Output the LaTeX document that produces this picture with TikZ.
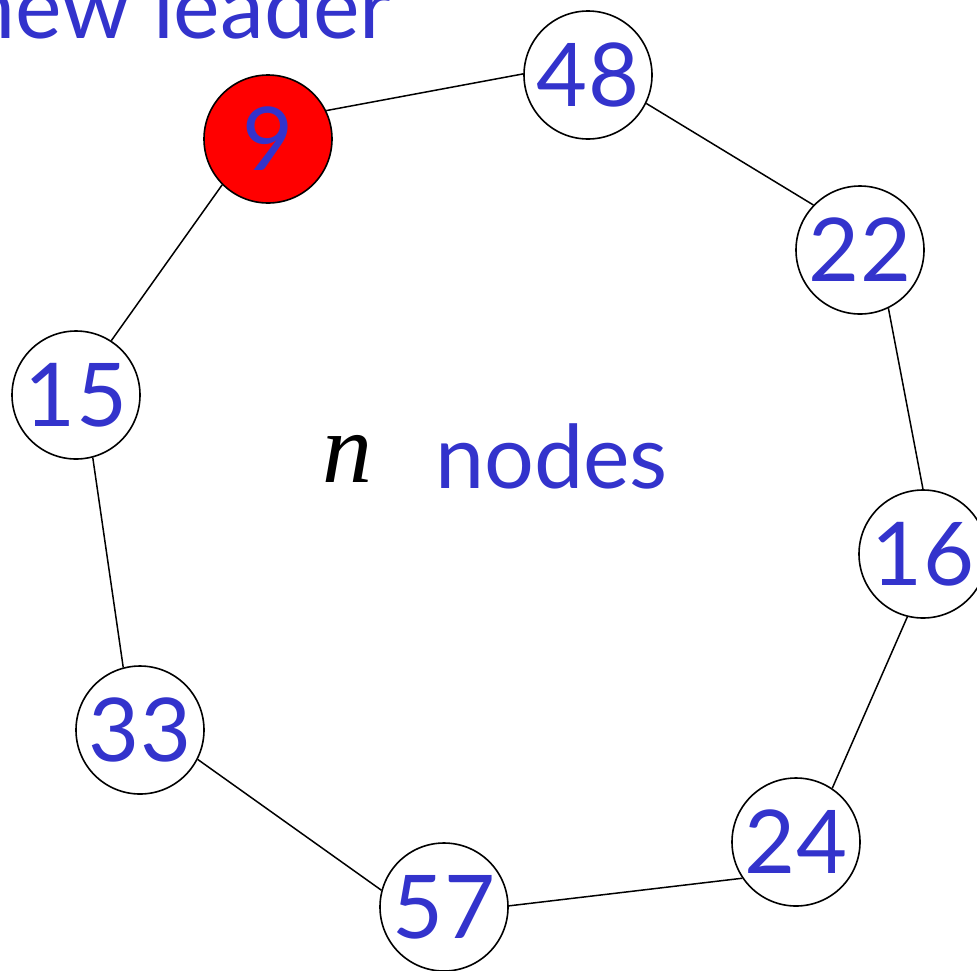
\documentclass[tikz,border=0pt]{standalone}
\usepackage{fontspec}
\setmainfont{Lato}
\newfontfamily\timesfont{Liberation Serif}
\definecolor{txtblue}{HTML}{3333CC}
\definecolor{leadred}{HTML}{FF0000}
\tikzset{
  ringnode/.style={circle, draw=black, line width=1.6pt, fill=white, minimum size=128pt, inner sep=0pt,
    text=txtblue, font=\fontsize{88}{88}\selectfont},
  leadnode/.style={ringnode, fill=leadred},
  ringedge/.style={draw=black, line width=1.5pt},
  bluetext/.style={text=txtblue, font=\fontsize{88}{88}\selectfont, inner sep=0pt}
}
\begin{document}
\begin{tikzpicture}[x=1pt,y=-1pt]
\useasboundingbox (0,0) rectangle (977,970);
\begin{scope}
\clip (0,0) rectangle (977,970);
\node[leadnode] (n9) at (268,139) {9};
\node[ringnode] (n48) at (588,75) {48};
\node[ringnode] (n22) at (860,250) {22};
\node[ringnode] (n16) at (923,554) {16};
\node[ringnode] (n24) at (796,842) {24};
\node[ringnode] (n57) at (444,907) {57};
\node[ringnode] (n33) at (140,730) {33};
\node[ringnode] (n15) at (76,395) {15};

\draw[ringedge] (n9.26) -- (n48.179);
\draw[ringedge] (n48.-26) -- (n22.136);
\draw[ringedge] (n22.-64) -- (n16.90);
\draw[ringedge] (n16.-104) -- (n24.56);
\draw[ringedge] (n24.214) -- (n57.1);
\draw[ringedge] (n57.165) -- (n33.-27);
\draw[ringedge] (n33.105) -- (n15.-75);
\draw[ringedge] (n15.57) -- (n9.225);

\node[bluetext, anchor=base east] (lead) at (392,38) {new leader};
\node[inner sep=0pt, anchor=base west, font=\timesfont\itshape\fontsize{100}{100}\selectfont] (nsym) at (322,482) {n};
\node[bluetext, anchor=base west] (nodes) at (435,488) {nodes};
\end{scope}
\end{tikzpicture}
\end{document}
